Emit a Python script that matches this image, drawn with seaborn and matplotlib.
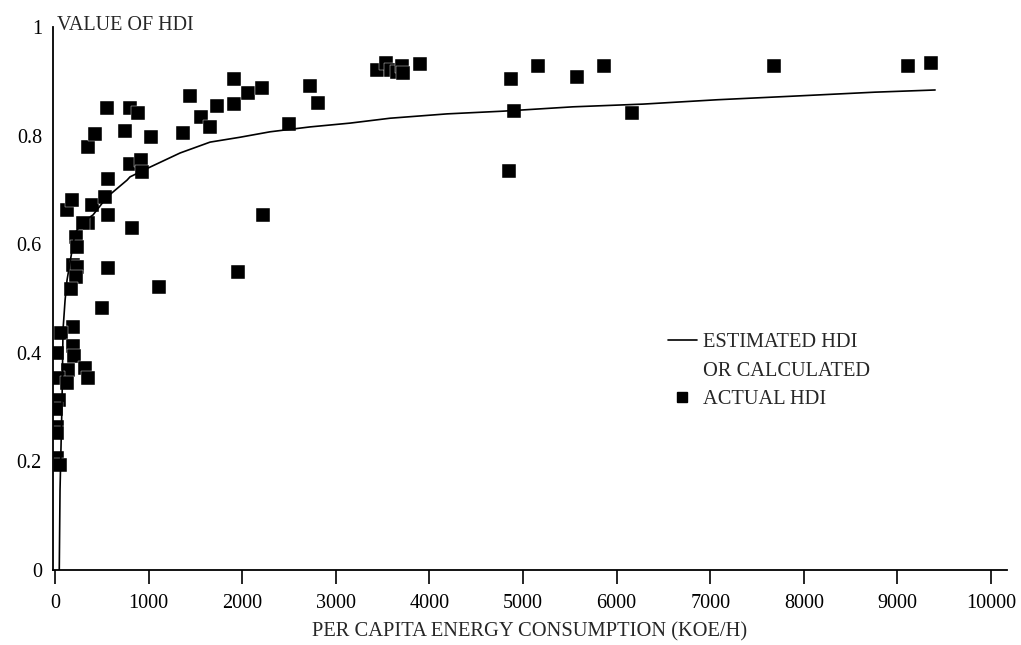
import numpy as np
import pandas as pd
import matplotlib
matplotlib.use("Agg")
import matplotlib.pyplot as plt
from matplotlib.lines import Line2D
import seaborn as sns

# actual HDI vs per capita energy consumption
actual_energy = [128, 182, 395, 534, 566, 823, 353, 299, 224, 235,
                 566, 192, 235, 224, 171, 1111, 502, 192, 64, 192,
                 200, 21, 139, 320, 353, 32, 128, 43, 11, 21,
                 21, 21, 53,
                 556, 801, 887, 353, 427, 748, 1026, 1368, 1442, 1560,
                 1656, 1731, 1912, 1912, 2062, 2212, 2500, 2724, 2810, 566,
                 801, 919, 930, 2222, 1955,
                 3440, 3536, 3590, 3654, 3707, 3718, 3900, 4872, 5160, 5577,
                 5866, 4904, 4851, 6165, 7682, 9113, 9359]
actual_hdi = [0.663, 0.681, 0.672, 0.687, 0.654, 0.630, 0.639, 0.639, 0.613, 0.595,
              0.556, 0.562, 0.558, 0.540, 0.517, 0.521, 0.483, 0.448, 0.436, 0.413,
              0.394, 0.400, 0.368, 0.372, 0.354, 0.354, 0.344, 0.313, 0.297, 0.263,
              0.252, 0.206, 0.193,
              0.851, 0.851, 0.842, 0.779, 0.803, 0.808, 0.797, 0.805, 0.873, 0.834,
              0.816, 0.855, 0.904, 0.858, 0.878, 0.888, 0.821, 0.891, 0.860, 0.720,
              0.748, 0.755, 0.733, 0.654, 0.549,
              0.921, 0.934, 0.921, 0.917, 0.928, 0.915, 0.932, 0.904, 0.928, 0.908,
              0.928, 0.845, 0.735, 0.842, 0.928, 0.928, 0.934]

# estimated (calculated) HDI curve
est_energy = [45, 53, 75, 85, 107, 128, 182, 214, 299, 406,
              556, 769, 801, 1015, 1336, 1656, 1977, 2297, 2724, 3152,
              3579, 4188, 4786, 5534, 6282, 7073, 7928, 8761, 9402]
est_hdi = [0.0, 0.147, 0.313, 0.442, 0.497, 0.534, 0.589, 0.621, 0.641, 0.654,
           0.687, 0.718, 0.724, 0.742, 0.768, 0.788, 0.797, 0.807, 0.816, 0.823,
           0.832, 0.840, 0.845, 0.853, 0.858, 0.866, 0.873, 0.880, 0.884]

x_ticks = [0, 1000, 2000, 3000, 4000, 5000, 6000, 7000, 8000, 9000, 10000]
y_ticks = [0, 0.2, 0.4, 0.6, 0.8, 1]
y_ticklabels = ["0", "0.2", "0.4", "0.6", "0.8", "1"]

actual_df = pd.DataFrame({"energy": actual_energy, "hdi": actual_hdi})
est_df = pd.DataFrame({"energy": est_energy, "hdi": est_hdi})

sns.set_style("white")
plt.rcParams['font.family'] = ['Liberation Serif', 'DejaVu Serif']

fig = plt.figure(figsize=(10.21, 6.45), dpi=100)
ax = fig.add_axes([53 / 1021, 75 / 645, (1007 - 53) / 1021, (618 - 75) / 645])

sns.lineplot(data=est_df, x="energy", y="hdi", color="black", linewidth=1.2,
             sort=False, estimator=None, ax=ax)
sns.scatterplot(data=actual_df, x="energy", y="hdi", marker="s", s=88,
                color="black", edgecolor="white", linewidth=0.3, ax=ax)

ax.set_xlim(-22, 10170)
ax.set_ylim(0, 1.0)
ax.set_xticks(x_ticks)
ax.set_xticklabels([str(t) for t in x_ticks])
ax.set_yticks(y_ticks)
ax.set_yticklabels(y_ticklabels)
ax.tick_params(axis="x", direction="out", length=10, width=1.2, pad=7,
               labelsize=14.5, colors="black", bottom=True)
ax.tick_params(axis="y", length=0, pad=8, labelsize=14.5, colors="black")

for side in ["top", "right"]:
    ax.spines[side].set_visible(False)
for side in ["left", "bottom"]:
    ax.spines[side].set_color("black")
    ax.spines[side].set_linewidth(1.3)

ax.set_xlabel("PER CAPITA ENERGY CONSUMPTION (KOE/H)", fontsize=14.8, labelpad=7)
ax.set_ylabel("")
fig.text(57 / 1021, 1 - 26 / 645, "VALUE OF HDI", fontsize=14.5, va="center", ha="left")

handles = [Line2D([0], [0], color="black", linewidth=1.2),
           Line2D([0], [0], color="none"),
           Line2D([0], [0], color="black", marker="s", linestyle="none", markersize=7.5)]
labels = ["ESTIMATED HDI", "OR CALCULATED", "ACTUAL HDI"]
ax.legend(handles, labels, loc="upper left", bbox_to_anchor=(668 / 1021, 1 - 333 / 645),
          bbox_transform=fig.transFigure, frameon=False, fontsize=14.7,
          handlelength=1.4, handletextpad=0.3, labelspacing=0.45, borderpad=0,
          borderaxespad=0)

fig.savefig("out.png", dpi=100)
